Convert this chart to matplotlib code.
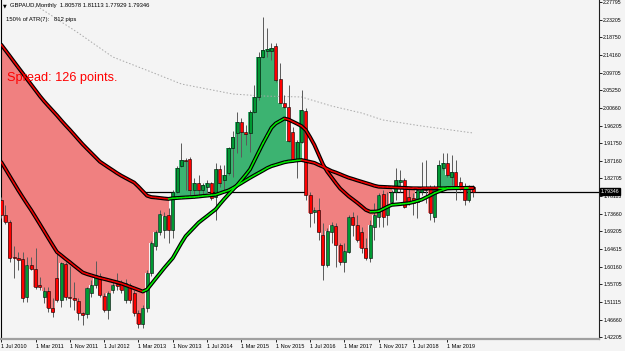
import numpy as np
import matplotlib.pyplot as plt
from matplotlib.transforms import blended_transform_factory


# GBPAUD monthly bars, first bar = Jul 2010
opens = [1.772, 1.734, 1.716, 1.627, 1.624, 1.621, 1.524, 1.606, 1.596, 1.555,
         1.524, 1.540, 1.496, 1.573, 1.517, 1.609, 1.524, 1.522, 1.514, 1.483,
         1.481, 1.534, 1.555, 1.578, 1.527, 1.491, 1.542, 1.557, 1.557, 1.517,
         1.555, 1.534, 1.483, 1.455, 1.496, 1.586, 1.655, 1.690, 1.696, 1.734,
         1.696, 1.793, 1.859, 1.874, 1.877, 1.798, 1.816, 1.798, 1.805, 1.816,
         1.780, 1.851, 1.823, 1.841, 1.905, 1.943, 1.971, 1.946, 1.943, 1.997,
         2.035, 2.137, 2.153, 2.153, 2.166, 2.081, 2.020, 2.010, 1.946, 1.874,
         1.920, 1.999, 1.785, 1.741, 1.747, 1.683, 1.606, 1.690, 1.706, 1.657,
         1.614, 1.639, 1.729, 1.708, 1.690, 1.649, 1.624, 1.703, 1.729, 1.787,
         1.734, 1.767, 1.793, 1.818, 1.823, 1.780, 1.777, 1.767, 1.793, 1.803,
         1.803, 1.729, 1.805, 1.854, 1.867, 1.831, 1.844, 1.818, 1.803, 1.772,
         1.80578]
highs = [1.780, 1.759, 1.721, 1.655, 1.639, 1.639, 1.627, 1.627, 1.649, 1.575,
         1.550, 1.550, 1.522, 1.637, 1.614, 1.614, 1.604, 1.563, 1.522, 1.486,
         1.550, 1.568, 1.616, 1.586, 1.534, 1.540, 1.563, 1.586, 1.568, 1.570,
         1.560, 1.542, 1.491, 1.504, 1.593, 1.667, 1.696, 1.747, 1.741, 1.752,
         1.798, 1.859, 1.918, 1.879, 1.882, 1.828, 1.836, 1.816, 1.823, 1.818,
         1.867, 1.862, 1.862, 1.907, 1.948, 1.997, 1.982, 1.964, 2.002, 2.066,
         2.150, 2.240, 2.212, 2.173, 2.173, 2.122, 2.040, 2.066, 1.959, 1.925,
         2.053, 2.007, 1.793, 1.754, 1.777, 1.713, 1.701, 1.716, 1.713, 1.662,
         1.662, 1.734, 1.741, 1.734, 1.703, 1.675, 1.721, 1.764, 1.790, 1.798,
         1.793, 1.798, 1.854, 1.849, 1.828, 1.803, 1.790, 1.805, 1.869, 1.874,
         1.810, 1.810, 1.874, 1.892, 1.892, 1.887, 1.874, 1.831, 1.816, 1.810,
         1.81113]
lows = [1.726, 1.711, 1.614, 1.573, 1.593, 1.511, 1.511, 1.593, 1.545, 1.542,
        1.509, 1.486, 1.473, 1.511, 1.499, 1.517, 1.499, 1.491, 1.466, 1.453,
        1.471, 1.524, 1.547, 1.524, 1.486, 1.468, 1.534, 1.542, 1.534, 1.509,
        1.509, 1.476, 1.445, 1.445, 1.486, 1.578, 1.644, 1.683, 1.675, 1.662,
        1.675, 1.790, 1.856, 1.798, 1.785, 1.777, 1.785, 1.785, 1.790, 1.772,
        1.721, 1.805, 1.798, 1.836, 1.831, 1.892, 1.882, 1.913, 1.895, 1.994,
        2.028, 2.135, 2.137, 2.130, 2.074, 2.020, 2.007, 1.920, 1.869, 1.828,
        1.918, 1.772, 1.703, 1.713, 1.670, 1.568, 1.601, 1.662, 1.601, 1.606,
        1.588, 1.637, 1.680, 1.665, 1.637, 1.619, 1.614, 1.670, 1.703, 1.703,
        1.708, 1.764, 1.772, 1.793, 1.752, 1.759, 1.734, 1.726, 1.785, 1.764,
        1.721, 1.716, 1.798, 1.849, 1.831, 1.810, 1.772, 1.798, 1.759, 1.767,
        1.77929]
closes = [1.734, 1.716, 1.624, 1.624, 1.619, 1.522, 1.606, 1.596, 1.550, 1.550,
          1.540, 1.496, 1.486, 1.517, 1.611, 1.524, 1.522, 1.517, 1.483, 1.478,
          1.547, 1.555, 1.580, 1.529, 1.491, 1.534, 1.555, 1.552, 1.542, 1.560,
          1.517, 1.483, 1.455, 1.496, 1.586, 1.662, 1.690, 1.736, 1.731, 1.696,
          1.793, 1.854, 1.874, 1.872, 1.798, 1.816, 1.798, 1.810, 1.816, 1.777,
          1.851, 1.816, 1.836, 1.905, 1.933, 1.971, 1.946, 1.941, 1.997, 2.035,
          2.137, 2.155, 2.158, 2.160, 2.079, 2.020, 2.010, 1.923, 1.874, 1.920,
          2.002, 1.785, 1.739, 1.747, 1.690, 1.606, 1.693, 1.708, 1.657, 1.614,
          1.642, 1.729, 1.708, 1.670, 1.649, 1.624, 1.708, 1.734, 1.785, 1.729,
          1.759, 1.793, 1.823, 1.823, 1.754, 1.764, 1.764, 1.798, 1.803, 1.798,
          1.739, 1.805, 1.862, 1.867, 1.836, 1.844, 1.805, 1.803, 1.772, 1.803,
          1.79346]

# slow and fast moving average lines (read per bar)
slow_ma = [2.1691, 2.1546, 2.1400, 2.1252, 2.1106, 2.0961, 2.0813, 2.0669, 2.0524, 2.0378,
           2.0245, 2.0123, 2.0003, 1.9883, 1.9755, 1.9632, 1.9515, 1.9392, 1.9267, 1.9144,
           1.9032, 1.8922, 1.8812, 1.8702, 1.8628, 1.8554, 1.8482, 1.8408, 1.8342, 1.8283,
           1.8224, 1.8166, 1.8061, 1.7946, 1.7831, 1.7795, 1.7785, 1.7772, 1.7759, 1.7749,
           1.7765, 1.7772, 1.7780, 1.7787, 1.7793, 1.7800, 1.7810, 1.7823, 1.7833, 1.7844,
           1.7856, 1.7892, 1.7931, 1.7966, 1.8025, 1.8089, 1.8155, 1.8222, 1.8288, 1.8350,
           1.8411, 1.8472, 1.8536, 1.8585, 1.8618, 1.8651, 1.8684, 1.8705, 1.8717, 1.8733,
           1.8743, 1.8718, 1.8695, 1.8669, 1.8618, 1.8572, 1.8516, 1.8462, 1.8424, 1.8380,
           1.8334, 1.8291, 1.8258, 1.8222, 1.8189, 1.8155, 1.8122, 1.8086, 1.8061, 1.8056,
           1.8051, 1.8046, 1.8040, 1.8035, 1.8030, 1.8025, 1.8020, 1.8020, 1.8018, 1.8018,
           1.8018, 1.8018, 1.8018, 1.8020, 1.8022, 1.8025, 1.8028, 1.8030, 1.8030, 1.8033,
           1.8033]
fast_ma = [1.8692, 1.8513, 1.8329, 1.8148, 1.7966, 1.7793, 1.7624, 1.7460, 1.7284, 1.7105,
           1.6926, 1.6745, 1.6566, 1.6392, 1.6306, 1.6216, 1.6132, 1.6042, 1.5956, 1.5869,
           1.5828, 1.5795, 1.5761, 1.5728, 1.5703, 1.5675, 1.5646, 1.5618, 1.5588, 1.5547,
           1.5506, 1.5465, 1.5424, 1.5383, 1.5434, 1.5572, 1.5710, 1.5846, 1.5983, 1.6111,
           1.6239, 1.6431, 1.6622, 1.6796, 1.6911, 1.7026, 1.7141, 1.7228, 1.7312, 1.7399,
           1.7483, 1.7619, 1.7747, 1.7867, 1.7984, 1.8102, 1.8232, 1.8365, 1.8503, 1.8723,
           1.8945, 1.9165, 1.9366, 1.9568, 1.9678, 1.9739, 1.9803, 1.9775, 1.9722, 1.9668,
           1.9609, 1.9510, 1.9328, 1.9129, 1.8881, 1.8633, 1.8447, 1.8301, 1.8153, 1.8015,
           1.7915, 1.7816, 1.7734, 1.7650, 1.7560, 1.7468, 1.7422, 1.7424, 1.7435, 1.7489,
           1.7545, 1.7596, 1.7606, 1.7616, 1.7629, 1.7639, 1.7665, 1.7698, 1.7729, 1.7785,
           1.7838, 1.7895, 1.7941, 1.7982, 1.8018, 1.8020, 1.8022, 1.8025, 1.8025, 1.8028,
           1.8028]

# dotted ATR line (bar index, level)
atr_bars = [9, 18, 26, 35, 42, 54, 61, 70, 77, 84, 89, 98, 110]
atr_level = [2.2627, 2.1988, 2.1375, 2.0991, 2.0685, 2.0429, 2.0378, 2.0353,
             2.0123, 1.9944, 1.9765, 1.9612, 1.9433]

x_tick_bars = [0, 8, 16, 24, 32, 40, 48, 56, 64, 72, 80, 88, 96, 104]
x_tick_labels = ['1 Jul 2010', '1 Mar 2011', '1 Nov 2011', '1 Jul 2012', '1 Mar 2013',
                 '1 Nov 2013', '1 Jul 2014', '1 Mar 2015', '1 Nov 2015', '1 Jul 2016',
                 '1 Mar 2017', '1 Nov 2017', '1 Jul 2018', '1 Mar 2019']
y_tick_labels = ['2.27795', '2.23205', '2.18750', '2.14160', '2.09705', '2.05250',
                 '2.00660', '1.96205', '1.91750', '1.87160', '1.82705', '1.78115',
                 '1.73660', '1.69205', '1.64615', '1.60160', '1.55705', '1.51115',
                 '1.46660', '1.42205']
last_price = 1.79346

BG = '#f4f4f4'
FONT = 'Liberation Sans'


def slope_line(ax, idx, vals):
   v = np.asarray(vals)
   ax.plot(idx, v, color='black', lw=2.8, zorder=5, solid_capstyle='round')
   for i in range(1, len(v)):
      c = '#00ee00' if v[i] > v[i - 1] else '#ee0000'
      ax.plot(idx[i - 1:i + 1], v[i - 1:i + 1], color=c, lw=1.1, zorder=6,
              solid_capstyle='round')


def main():
   o = np.array(opens)
   h = np.array(highs)
   l = np.array(lows)
   c = np.array(closes)
   slow = np.array(slow_ma)
   idx = np.arange(len(c))

   fig = plt.figure(figsize=(6.25, 3.51), dpi=100, facecolor=BG)
   # plot area spans px 1..599 horizontally and 0..339 vertically
   ax = fig.add_axes([1 / 625, 1 - 339 / 351, 598 / 625, 339 / 351])
   ax.set_facecolor(BG)
   ax.set_xlim((1 - 1.2) / 4.29, (599 - 1.2) / 4.29)
   ax.set_ylim(2.2831 - 0.002555 * 339, 2.2831)

   # current price line sits under the fills
   ax.axhline(last_price, color='black', lw=0.9, zorder=1)

   ax.fill_between(idx, c, slow, where=c < slow, step='mid', color='#f08080',
                   lw=0, zorder=2)
   ax.fill_between(idx, c, slow, where=c >= slow, step='mid', color='#3cb371',
                   lw=0, zorder=2)

   # candles
   bull = c >= o
   ax.vlines(idx, l, h, color='#5a5a5a', lw=0.7, zorder=3)
   body = np.where(np.abs(c - o) < 0.001, 0.001, c - o)
   ax.bar(idx, body, bottom=o, width=0.7,
          color=np.where(bull, '#009933', '#ff0000'),
          edgecolor='black', linewidth=0.4, zorder=4)

   slope_line(ax, idx, slow_ma)
   slope_line(ax, idx, fast_ma)

   ax.plot(atr_bars, atr_level, color='#a8a8a8', lw=0.7, ls=(0, (1.5, 2)), zorder=2)

   ax.spines['top'].set_visible(False)
   ax.spines['left'].set_color('black')
   ax.spines['left'].set_linewidth(0.8)
   ax.spines['right'].set_color('#202020')
   ax.spines['right'].set_linewidth(0.8)
   ax.spines['bottom'].set_color('#a0a0a0')
   ax.spines['bottom'].set_linewidth(1.6)

   ax.yaxis.tick_right()
   ax.set_yticks([float(t) for t in y_tick_labels])
   ax.set_yticklabels(y_tick_labels, fontsize=3.7, family=FONT)
   ax.tick_params(axis='y', length=2, width=0.6, pad=1, color='black')
   ax.set_xticks(x_tick_bars)
   ax.set_xticklabels(x_tick_labels, fontsize=4.0, family=FONT, ha='left')
   ax.tick_params(axis='x', length=2, width=0.6, pad=1.5, color='black')

   tr = blended_transform_factory(ax.transAxes, ax.transData)
   ax.text(1.0 + 2 / 598, last_price, '1.79346', transform=tr, color='white',
           fontsize=3.7, family=FONT, va='center', ha='left', zorder=10,
           bbox=dict(fc='black', ec='black', pad=0.6))

   fig.text(3 / 625, 1 - 6 / 351, '\u25bc', fontsize=3.5, va='center', ha='left')
   fig.text(10 / 625, 1 - 6 / 351, 'GBPAUD,Monthly  1.80578 1.81113 1.77929 1.79346',
            fontsize=4.2, family=FONT, va='center', ha='left')
   fig.text(6 / 625, 1 - 19 / 351, '150% of ATR(7):   812 pips',
            fontsize=4.2, family=FONT, va='center', ha='left')
   fig.text(7 / 625, 1 - 78 / 351, 'Spread: 126 points.', color='#ff0000',
            fontsize=9.2, family=FONT, va='center', ha='left', zorder=10)

   fig.savefig('out.png', dpi=100, facecolor=BG)


if __name__ == "__main__":
   main()
